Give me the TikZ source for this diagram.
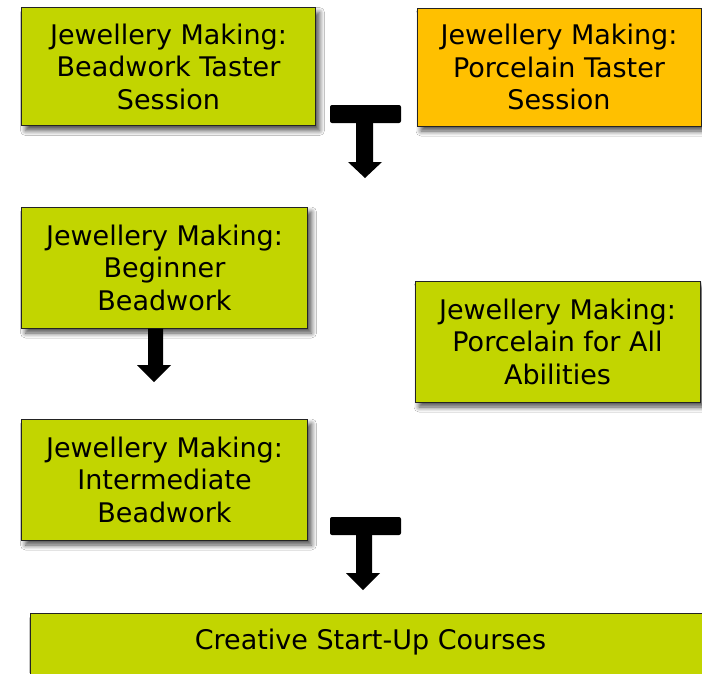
\documentclass[tikz,border=0pt]{standalone}
\usepackage{fontspec}
\setmainfont{DejaVu Sans}
\usetikzlibrary{shadows.blur}
\definecolor{boxgreen}{RGB}{194,213,0}
\definecolor{boxorange}{RGB}{255,192,0}
\definecolor{edgegray}{RGB}{35,35,35}
\tikzset{
  course/.style={draw=edgegray, line width=1pt, align=center, inner sep=0pt,
    font=\fontsize{27}{32.5}\selectfont,
    blur shadow={shadow xshift=4pt, shadow yshift=-5pt, shadow blur radius=5pt, shadow blur steps=8, shadow opacity=70}},
  greenbox/.style={course, fill=boxgreen},
  orangebox/.style={course, fill=boxorange},
  flowarrow/.style={fill=black, draw=none}
}
\begin{document}
\begin{tikzpicture}[x=1pt,y=-1pt]
\useasboundingbox (0,0) rectangle (702,673);
\clip (0,0) rectangle (702,673);
\fill[white] (0,0) rectangle (702,673);

\node[greenbox, minimum width=294pt, minimum height=118pt] (taster1) at (168.5,66.5)
  {Jewellery Making:\\Beadwork Taster\\Session};
\node[orangebox, minimum width=284pt, minimum height=118pt] (taster2) at (559,67)
  {Jewellery Making:\\Porcelain Taster\\Session};
\node[greenbox, minimum width=286pt, minimum height=121pt] (beginner) at (164.5,267.5)
  {Jewellery Making:\\Beginner\\Beadwork};
\node[greenbox, minimum width=285pt, minimum height=121pt] (porcelain) at (557.5,341.5)
  {Jewellery Making:\\Porcelain for All\\Abilities};
\node[greenbox, minimum width=286pt, minimum height=121pt] (intermediate) at (164.5,479.5)
  {Jewellery Making:\\Intermediate\\Beadwork};
\node[greenbox, anchor=north west, minimum width=680pt, inner ysep=15pt, text depth=60pt] (startup) at (30,613)
  {Creative Start-Up Courses};

% T-arrow between tasters
\coordinate (tipA) at (365,178);
\fill[flowarrow, rounded corners=2pt] (330,105) rectangle (401,123);
\fill[flowarrow] (356,122) -- (373,122) -- (373,162) -- (382,162) -- (tipA) -- (348,162) -- (356,162) -- cycle;

% arrow beginner -> intermediate
\coordinate (tipB) at (154,382);
\fill[flowarrow] (beginner.south -| 148,0) -- (beginner.south -| 163,0) -- (163,365) -- (171,365) -- (tipB) -- (137,365) -- (148,365) -- cycle;

% T-arrow to start-up courses
\coordinate (tipC) at (363,590);
\fill[flowarrow, rounded corners=2pt] (330,517) rectangle (401,535);
\fill[flowarrow] (356,534) -- (372,534) -- (372,573) -- (380,573) -- (tipC) -- (346,573) -- (356,573) -- cycle;
\end{tikzpicture}
\end{document}
